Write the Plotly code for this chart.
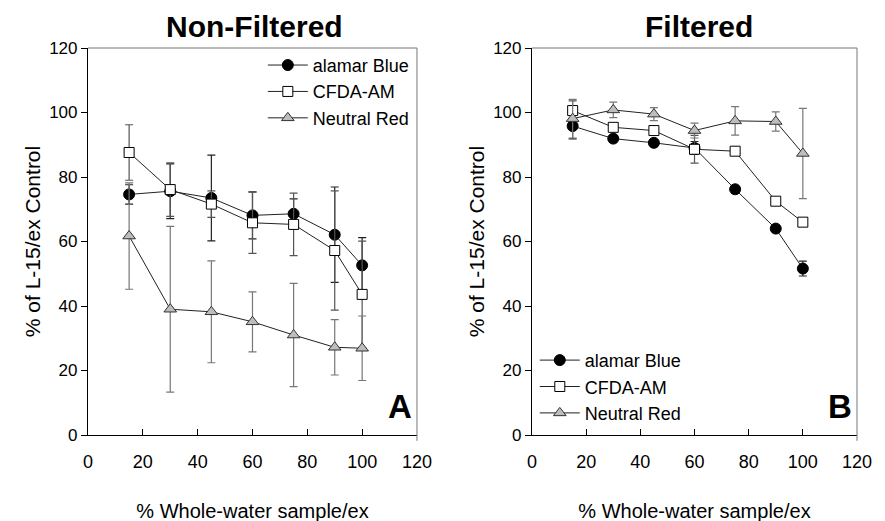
import plotly.graph_objects as go

x_vals = [15, 30, 45, 60, 75, 90, 100]

# Non-Filtered (panel A)
nf_alamar = [74.6, 75.6, 73.5, 68.1, 68.6, 62.1, 52.6]
nf_alamar_err = [3.0, 8.5, 13.3, 7.3, 4.6, 14.8, 8.6]
nf_cfda = [87.6, 76.1, 71.6, 65.8, 65.3, 57.2, 43.6]
nf_cfda_err = [8.6, 8.3, 4.1, 9.5, 9.7, 18.5, 16.5]
nf_nr = [61.7, 39.0, 38.2, 35.1, 31.0, 27.2, 26.9]
nf_nr_err = [16.5, 25.7, 15.8, 9.3, 16.0, 8.6, 10.0]

# Filtered (panel B)
f_alamar = [95.8, 91.9, 90.6, 89.0, 76.2, 64.0, 51.6]
f_alamar_err = [4.0, 1.0, 1.0, 2.0, 1.0, 1.0, 2.3]
f_cfda = [100.6, 95.4, 94.4, 88.6, 88.0, 72.5, 66.0]
f_cfda_err = [3.0, 1.0, 1.0, 4.3, 1.0, 1.0, 1.0]
f_nr = [98.1, 100.8, 99.5, 94.4, 97.4, 97.2, 87.3]
f_nr_err = [6.0, 2.4, 2.0, 2.3, 4.4, 3.0, 14.0]

series_names = ["alamar Blue", "CFDA-AM", "Neutral Red"]
panel_titles = ["Non-Filtered", "Filtered"]
panel_letters = ["A", "B"]
y_title = "% of L-15/ex Control"
x_title = "% Whole-water sample/ex"

styles = [
    dict(symbol="circle", color="black", line=dict(color="black", width=1), size=11),
    dict(symbol="square", color="white", line=dict(color="black", width=1), size=10),
    dict(symbol="triangle-up", color="#bdbdbd", line=dict(color="#333333", width=1), size=11),
]
err_colors = ["#222222", "#555555", "#777777"]

fig = go.Figure()

panels = [
    ("x", "y", [(nf_alamar, nf_alamar_err), (nf_cfda, nf_cfda_err), (nf_nr, nf_nr_err)], "legend"),
    ("x2", "y2", [(f_alamar, f_alamar_err), (f_cfda, f_cfda_err), (f_nr, f_nr_err)], "legend2"),
]

for xa, ya, data, leg in panels:
    for i, (vals, errs) in enumerate(data):
        fig.add_trace(go.Scatter(
            x=x_vals, y=vals, name=series_names[i], mode="lines+markers",
            xaxis=xa, yaxis=ya, legend=leg,
            line=dict(color="#222222", width=1),
            marker=styles[i],
            error_y=dict(type="data", array=errs, visible=True,
                         color=err_colors[i], thickness=1.2, width=4),
        ))

reg = "Liberation Sans, Arial"

axis_common_x = dict(range=[0, 120], tickvals=[0, 20, 40, 60, 80, 100, 120],
                     ticks="inside", ticklen=6, tickcolor="black",
                     showline=True, linecolor="black", linewidth=1.2,
                     mirror=False, showgrid=False, zeroline=False, automargin=False,
                     ticklabelstandoff=10,
                     tickfont=dict(family=reg, size=18, color="black"),
                     title=dict(text=x_title, font=dict(family=reg, size=20, color="black"), standoff=33))
axis_common_y = dict(range=[0, 120], tickvals=[0, 20, 40, 60, 80, 100, 120],
                     ticks="outside", ticklen=6, tickcolor="black",
                     showline=True, linecolor="black", linewidth=1.2,
                     showgrid=False, zeroline=False, automargin=False,
                     tickfont=dict(family=reg, size=17, color="black"),
                     title=dict(text=y_title, font=dict(family=reg, size=21, color="black"), standoff=2))

fig.update_layout(
    width=885, height=521,
    margin=dict(l=80, r=36, t=40, b=94, autoexpand=False),
    plot_bgcolor="white", paper_bgcolor="white",
    showlegend=True,
    xaxis=dict(domain=[0, 0.4278], anchor="y", **axis_common_x),
    yaxis=dict(domain=[0, 1], anchor="x", **axis_common_y),
    xaxis2=dict(domain=[0.5774, 1.0], anchor="y2", **axis_common_x),
    yaxis2=dict(domain=[0, 1], anchor="x2", **axis_common_y),
    legend=dict(x=0.425, y=1.003, xanchor="right", yanchor="top",
                bgcolor="rgba(0,0,0,0)", font=dict(family=reg, size=18, color="black"),
                tracegroupgap=0, itemwidth=40),
    legend2=dict(x=0.581, y=0.008, xanchor="left", yanchor="bottom",
                 bgcolor="rgba(0,0,0,0)", font=dict(family=reg, size=18, color="black"),
                 tracegroupgap=0, itemwidth=40),
)

# gray top/right frame lines
for xr, yr in [("x domain", "y domain"), ("x2 domain", "y2 domain")]:
    fig.add_shape(type="line", xref=xr, yref=yr, x0=0, x1=1, y0=1, y1=1,
                  line=dict(color="#777777", width=1))
    fig.add_shape(type="line", xref=xr, yref=yr, x0=1, x1=1, y0=-0.015, y1=1,
                  line=dict(color="#777777", width=1))

# panel titles (top of text box at top edge of figure)
title_y = 1 + 40 / 387
fig.add_annotation(text="<b>Non-Filtered</b>", xref="x domain", yref="paper",
                   x=0.505, y=title_y, xanchor="center", yanchor="top", yshift=0, showarrow=False,
                   font=dict(family=reg, size=30, color="black"))
fig.add_annotation(text="<b>Filtered</b>", xref="x2 domain", yref="paper",
                   x=0.515, y=title_y, xanchor="center", yanchor="top", yshift=0, showarrow=False,
                   font=dict(family=reg, size=30, color="black"))

# panel letters
fig.add_annotation(text="<b>A</b>", xref="x domain", yref="y domain", x=0.99, y=0.02,
                   xanchor="right", yanchor="bottom", showarrow=False,
                   font=dict(family=reg, size=33, color="black"))
fig.add_annotation(text="<b>B</b>", xref="x2 domain", yref="y2 domain", x=0.99, y=0.02,
                   xanchor="right", yanchor="bottom", showarrow=False,
                   font=dict(family=reg, size=33, color="black"))

fig.write_html("out.html")
